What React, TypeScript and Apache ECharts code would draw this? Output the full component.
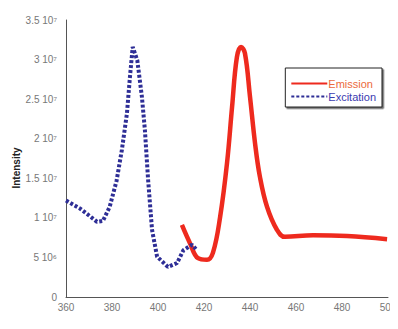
import React, { useEffect, useRef } from "react";
import * as echarts from "echarts";

const excitationNm = [360, 366, 370, 373.5, 376, 379, 382, 384.3, 386.5, 387.8, 389, 391, 393, 394.3, 395.7, 397.4, 399.6, 404.3, 408.3, 411, 414.8, 417];
const excitationVal = [1.22e7, 1.12e7, 1.03e7, 9.5e6, 9.6e6, 1.14e7, 1.47e7, 1.86e7, 2.32e7, 2.78e7, 3.16e7, 2.99e7, 2.53e7, 2.11e7, 1.48e7, 8.5e6, 5.1e6, 3.8e6, 4.3e6, 5.9e6, 6.6e6, 5.9e6];

const emissionNm = [410.4, 413.9, 417.4, 421.3, 423.9, 427, 430, 432.2, 434.3, 436.1, 437.8, 440, 442.2, 444.3, 447.4, 451.7, 455.2, 467.4, 482.2, 499.6];
const emissionVal = [9.1e6, 6.8e6, 4.9e6, 4.7e6, 5.6e6, 1.01e7, 1.69e7, 2.4e7, 3.03e7, 3.16e7, 3.08e7, 2.53e7, 1.94e7, 1.52e7, 1.14e7, 8.5e6, 7.6e6, 7.8e6, 7.7e6, 7.3e6];

const yTickLabels: Record<string, string> = {
  "0": "0",
  "5000000": "5 10⁶",
  "10000000": "1 10⁷",
  "15000000": "1.5 10⁷",
  "20000000": "2 10⁷",
  "25000000": "2.5 10⁷",
  "30000000": "3 10⁷",
  "35000000": "3.5 10⁷",
};

const RED = "#ee2a1e";
const BLUE = "#2e2e96";

export default function App() {
  const ref = useRef<HTMLDivElement>(null);
  useEffect(() => {
    const chart = echarts.init(ref.current!, undefined, { renderer: "svg" });
    chart.setOption({
      animation: false,
      backgroundColor: "#ffffff",
      textStyle: { fontFamily: "Liberation Sans, Arial, sans-serif" },
      grid: { left: 58, right: 2, top: 12, bottom: 24, containLabel: false, outerBoundsMode: "none" },
      legend: {
        top: 60,
        right: 8,
        orient: "vertical",
        borderColor: "#222",
        borderWidth: 1,
        backgroundColor: "#fff",
        shadowColor: "rgba(0,0,0,0.6)",
        shadowOffsetX: 1.5,
        shadowOffsetY: 1.5,
        shadowBlur: 0,
        padding: [10, 6, 5, 5],
        itemGap: 2,
        itemWidth: 36,
        itemHeight: 10,
        itemStyle: { opacity: 0 },
        textStyle: { fontSize: 11, padding: [0, 0, 0, -4] },
        data: [
          { name: "Emission", textStyle: { color: "#ec6a3c" } },
          { name: "Excitation", textStyle: { color: "#3b3bb0" } },
        ],
      },
      graphic: [
        {
          type: "text",
          x: 8,
          y: 160,
          rotation: Math.PI / 2,
          style: {
            text: "Intensity",
            align: "center",
            verticalAlign: "middle",
            fontWeight: "bold",
            fontSize: 10,
            fill: "#222",
            fontFamily: "Liberation Sans, Arial, sans-serif",
          },
        },
      ],
      xAxis: {
        type: "value",
        min: 360,
        max: 500,
        interval: 20,
        name: "nm",
        nameLocation: "middle",
        nameGap: 22,
        nameTextStyle: { fontWeight: "bold", fontSize: 11, color: "#222" },
        axisLine: { lineStyle: { color: "#555", width: 1 } },
        axisTick: { show: false },
        splitLine: { show: false },
        axisLabel: { color: "#777", fontSize: 10, margin: 5 },
      },
      yAxis: {
        type: "value",
        min: 0,
        max: 3.5e7,
        interval: 5e6,
        axisLine: { show: true, lineStyle: { color: "#555", width: 1 } },
        axisTick: { show: false },
        splitLine: { show: false },
        axisLabel: {
          color: "#777",
          fontSize: 10,
          margin: 9,
          formatter: (v: number) => yTickLabels[String(v)] ?? String(v),
        },
      },
      series: [
        {
          name: "Emission",
          type: "line",
          smooth: 0.4,
          showSymbol: false,
          symbol: "none",
          color: RED,
          lineStyle: { color: RED, width: 4.5 },
          data: emissionNm.map((x, i) => [x, emissionVal[i]]),
          z: 2,
        },
        {
          name: "Excitation",
          type: "line",
          smooth: false,
          showSymbol: false,
          symbol: "none",
          color: BLUE,
          lineStyle: { color: BLUE, width: 4, type: [3, 2], cap: "butt" },
          data: excitationNm.map((x, i) => [x, excitationVal[i]]),
          z: 3,
        },
      ],
    });
    return () => chart.dispose();
  }, []);
  return <div ref={ref} style={{ width: 382, height: 313 }} />;
}
